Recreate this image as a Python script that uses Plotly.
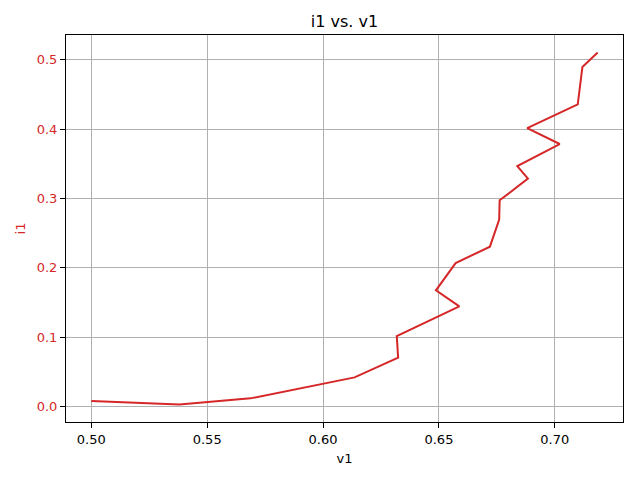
import plotly.graph_objects as go

v1 = [0.5000, 0.5380, 0.5687, 0.6136, 0.6324, 0.6318, 0.6588, 0.6487, 0.6572,
      0.6720, 0.6760, 0.6762, 0.6884, 0.6838, 0.7021, 0.6881, 0.7099, 0.7119, 0.7185]
i1 = [0.0081, 0.0033, 0.0120, 0.0422, 0.0706, 0.1017, 0.1445, 0.1676, 0.2069,
      0.2305, 0.2695, 0.2973, 0.3285, 0.3467, 0.3784, 0.4014, 0.4356, 0.4893, 0.5101]

x_ticks = [0.50, 0.55, 0.60, 0.65, 0.70]
y_ticks = [0.0, 0.1, 0.2, 0.3, 0.4, 0.5]

RED = "#d62728"
FONT = "DejaVu Sans"

W, H = 632, 472

fig = go.Figure()
fig.add_trace(go.Scatter(x=v1, y=i1, mode="lines",
                         line=dict(color=RED, width=2), showlegend=False))

xmin, xmax = min(v1), max(v1)
ymin, ymax = min(i1), max(i1)
xm = (xmax - xmin) * 0.05
ym = (ymax - ymin) * 0.05

fig.update_layout(
    width=W, height=H,
    margin=dict(l=58, r=17, t=27, b=58),
    plot_bgcolor="white", paper_bgcolor="white",
    font=dict(family=FONT, size=13, color="black"),
    title=dict(text="i1 vs. v1", x=0.5, xanchor="center", xref="paper",
               y=1 - 13 / H, yref="container", yanchor="middle",
               font=dict(family=FONT, size=16, color="black")),
)
fig.update_xaxes(
    range=[xmin - xm, xmax + xm], automargin=False,
    tickvals=x_ticks, ticktext=[f"{t:.2f}" for t in x_ticks],
    showgrid=True, gridcolor="#b0b0b0", gridwidth=1,
    zeroline=False, showline=True, linecolor="black", linewidth=1, mirror=True,
    ticks="outside", ticklen=5, tickcolor="black",
    tickfont=dict(family=FONT, size=13, color="black"),
    title=dict(text="v1", standoff=8, font=dict(family=FONT, size=13, color="black")),
)
fig.update_yaxes(
    range=[ymin - ym, ymax + ym], automargin=False,
    tickvals=y_ticks, ticktext=[f"{t:.1f}" for t in y_ticks],
    showgrid=True, gridcolor="#b0b0b0", gridwidth=1,
    zeroline=False, showline=True, linecolor="black", linewidth=1, mirror=True,
    ticks="outside", ticklen=5, tickcolor="black",
    tickfont=dict(family=FONT, size=13, color=RED),
    title=dict(text="i1", standoff=8, font=dict(family=FONT, size=13, color=RED)),
)

fig.write_html("out.html")
